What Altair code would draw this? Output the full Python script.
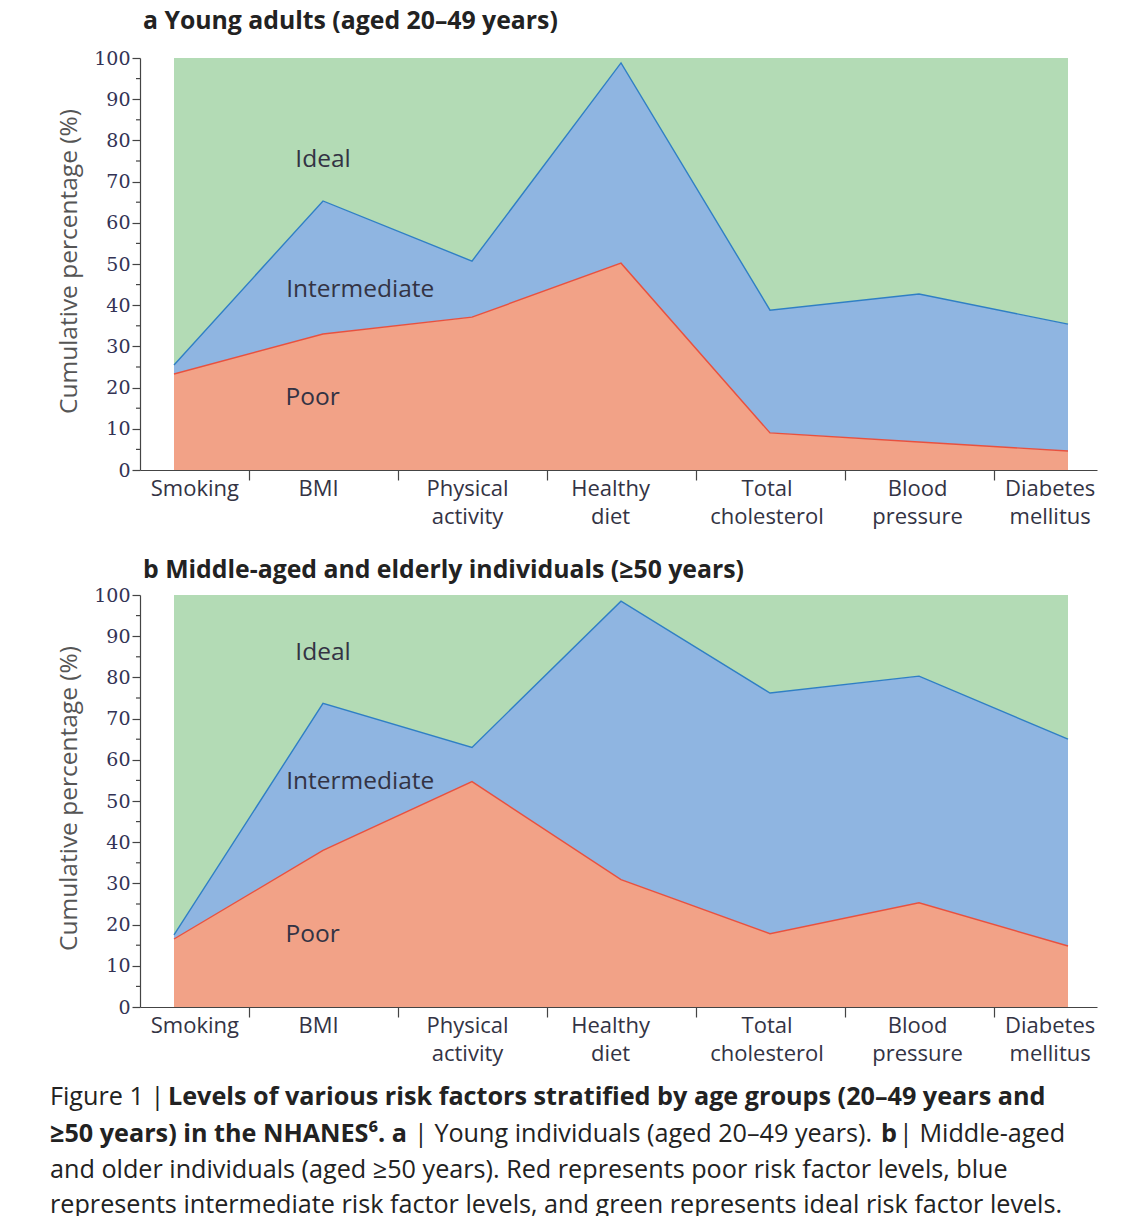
import altair as alt
import pandas as pd

# ---------------- data ----------------
factors = ["Smoking", "BMI", "Physical\nactivity", "Healthy\ndiet",
           "Total\ncholesterol", "Blood\npressure", "Diabetes\nmellitus"]
factor_index = [0, 1, 2, 3, 4, 5, 6]
label_pos = [0.14, 0.97, 1.97, 2.93, 3.98, 4.99, 5.88]
band_ticks = [0.5, 1.5, 2.5, 3.5, 4.5, 5.5]

# cumulative percentages: top of "Poor" and top of "Intermediate"
young_poor = [23.3, 33.0, 37.1, 50.2, 9.0, 6.8, 4.6]
young_inter_top = [25.5, 65.3, 50.7, 98.8, 38.8, 42.7, 35.4]
old_poor = [16.5, 38.0, 54.7, 30.9, 17.8, 25.3, 14.8]
old_inter_top = [17.5, 73.7, 63.0, 98.5, 76.2, 80.3, 65.0]

y_major = [0, 10, 20, 30, 40, 50, 60, 70, 80, 90, 100]
y_minor = [5, 15, 25, 35, 45, 55, 65, 75, 85, 95]

area_names = ["Ideal", "Intermediate", "Poor"]
young_label_x = [1.0, 1.25, 0.93]
young_label_y = [75.2, 43.7, 17.5]
old_label_x = [1.0, 1.25, 0.93]
old_label_y = [85.9, 54.5, 17.5]

title_a = "a  Young adults (aged 20–49 years)"
title_b = "b  Middle-aged and elderly individuals (≥50 years)"

# ---------------- styles ----------------
GREEN = "#b3dbb5"
BLUE = "#8fb5e1"
RED = "#f2a287"
BLUE_LINE = "#2f7fc4"
RED_LINE = "#e8513f"
AXIS = "#444444"
TEXT = "#333344"
SANS = "Open Sans"

W, H = 957, 412

xscale = alt.Scale(domain=[-0.2282, 6.1946], nice=False, zero=False)
yscale = alt.Scale(domain=[0, 100], nice=False)
xaxis = alt.Axis(values=band_ticks, labels=False, tickSize=10, title=None,
                 grid=False, domainColor=AXIS, tickColor=AXIS,
                 domainWidth=1.2, tickWidth=1.2)
yaxis = alt.Axis(values=y_major, tickSize=8, grid=False,
                 title="Cumulative percentage (%)",
                 labelFont="DejaVu Serif", labelFontSize=19,
                 labelColor="#333355", labelPadding=2,
                 domainColor=AXIS, tickColor=AXIS, domainWidth=1.2, tickWidth=1.2,
                 titleFont=SANS, titleFontSize=24.5, titleFontWeight="normal",
                 titleColor="#555555", titleX=-64, titleY=H / 2 - 3,
                 titleBaseline="alphabetic", titleAngle=270)


def panel(poor, inter_top, title, title_offset, lab_x, lab_y, extra=None):
    df = pd.DataFrame({"x": factor_index, "poor": poor, "upper": inter_top,
                       "zero": [0] * 7, "top": [100] * 7})
    base = alt.Chart(df).encode(x=alt.X("x:Q", scale=xscale, axis=xaxis))
    ideal = base.mark_area(color=GREEN, opacity=1).encode(
        y=alt.Y("upper:Q", scale=yscale, axis=yaxis, stack=None), y2="top:Q")
    inter = base.mark_area(color=BLUE, opacity=1).encode(
        y=alt.Y("poor:Q", scale=yscale, axis=yaxis, stack=None), y2="upper:Q")
    poorA = base.mark_area(color=RED, opacity=1).encode(
        y=alt.Y("zero:Q", scale=yscale, axis=yaxis, stack=None), y2="poor:Q")
    blue_line = base.mark_line(color=BLUE_LINE, strokeWidth=1.4).encode(
        y=alt.Y("upper:Q", scale=yscale, axis=yaxis))
    red_line = base.mark_line(color=RED_LINE, strokeWidth=1.4).encode(
        y=alt.Y("poor:Q", scale=yscale, axis=yaxis))

    minor = alt.Chart(pd.DataFrame({"v": y_minor})).mark_rule(
        color=AXIS, strokeWidth=1.2).encode(
        y=alt.Y("v:Q", scale=yscale, axis=yaxis),
        x=alt.value(-4), x2=alt.value(0))

    ticklabels = alt.Chart(pd.DataFrame({"pos": label_pos, "lab": factors})).mark_text(
        baseline="top", align="center", lineBreak="\n", lineHeight=28,
        font=SANS, fontSize=22, color=TEXT).encode(
        x=alt.X("pos:Q", scale=xscale, axis=xaxis),
        y=alt.value(H + 9), text="lab:N")

    arealabels = alt.Chart(pd.DataFrame({"t": area_names, "lx": lab_x, "ly": lab_y})).mark_text(
        baseline="middle", align="center", font=SANS, fontSize=24.5, color=TEXT).encode(
        x=alt.X("lx:Q", scale=xscale, axis=xaxis),
        y=alt.Y("ly:Q", scale=yscale, axis=yaxis), text="t:N")

    layers = [ideal, inter, poorA, blue_line, red_line, minor, ticklabels, arealabels]
    if extra:
        layers += extra
    return alt.layer(*layers).properties(
        width=W, height=H,
        title=alt.TitleParams(title, anchor="start", frame="group", font=SANS,
                              fontSize=24.8, fontWeight="bold", color="#222222",
                              offset=title_offset, dx=3, baseline="alphabetic"))


# ---------------- caption ----------------
CAP_FONT = "Open Sans"
CAP_SIZE = 25.2


def cap(txt, x, y, bold=False):
    return alt.Chart(pd.DataFrame({"t": [txt]})).mark_text(
        align="left", baseline="alphabetic", font=CAP_FONT, fontSize=CAP_SIZE,
        fontWeight="bold" if bold else "normal", color="#222222").encode(
        x=alt.value(x), y=alt.value(y), text="t:N")


caption = [
    cap("Figure 1 |", -90, 510),
    cap("Levels of various risk factors stratified by age groups (20–49 years and", 28, 510, True),
    cap("≥50 years) in the NHANES⁶. a", -90, 547, True),
    cap("| Young individuals (aged 20–49 years).", 274, 547),
    cap("b", 741, 547, True),
    cap("| Middle-aged", 759, 547),
    cap("and older individuals (aged ≥50 years). Red represents poor risk factor levels, blue", -90, 583),
    cap("represents intermediate risk factor levels, and green represents ideal risk factor levels.", -90, 618),
]

pa = panel(young_poor, young_inter_top, title_a, -5, young_label_x, young_label_y)
pb = panel(old_poor, old_inter_top, title_b, -17, old_label_x, old_label_y, extra=caption)

chart = alt.vconcat(pa, pb, spacing=125, bounds="flush").properties(
    padding={"left": 42, "top": 1, "right": 10, "bottom": 0}
).configure_view(stroke=None)

chart.save("out.html", embed_options={"renderer": "svg", "actions": False})
